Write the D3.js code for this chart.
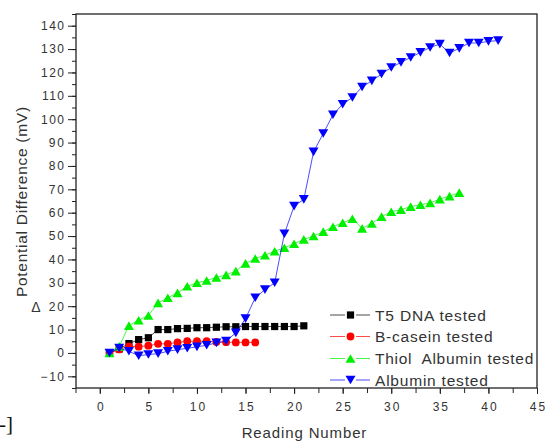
<!DOCTYPE html>
<html><head><meta charset="utf-8">
<script src="https://cdn.jsdelivr.net/npm/d3@7"></script>
<style>body{margin:0;background:#fff}svg{display:block}</style>
</head><body>
<script>
// ---- data ----
const seriesNames = ["T5 DNA tested", "B-casein tested", "Thiol  Albumin tested", "Albumin tested"];
const t5Values = [0, 1.7, 4, 5.7, 6.5, 10, 10, 10.4, 10.5, 10.8, 10.8, 11, 11.2, 11.2, 11.3, 11.3, 11.3, 11.3, 11.3, 11.3, 11.6];
const caseinValues = [0, 1.5, 2.8, 2.7, 3.1, 3.9, 3.9, 4.5, 5, 5, 5, 4.7, 4.6, 4.5, 4.5, 4.5];
const thiolValues = [0, 2.8, 11.7, 14, 16, 21.4, 23.6, 25.7, 28.5, 30, 31, 32.3, 33.4, 35, 38.3, 40.4, 41.8, 43.5, 45, 46.7, 48.6, 50, 51.9, 54, 55.7, 57.4, 53.3, 55.4, 58.3, 60.4, 61.3, 62.6, 63.4, 64.2, 65.8, 67.1, 68.6];
const albuminValues = [0, 2.1, 0.7, -1.2, -0.7, -0.3, 0.7, 1.4, 2, 2.6, 3.3, 4.3, 5.1, 8.6, 14.7, 23.6, 27.1, 30, 51, 62.8, 65.7, 86, 93.9, 101.9, 106.4, 109.3, 113.8, 116.4, 119.3, 122.1, 124.3, 126.4, 128.6, 130.7, 132.1, 128.3, 130.3, 132.6, 132.6, 133.3, 133.6];
const xTickLabels = [0, 5, 10, 15, 20, 25, 30, 35, 40, 45];
const yTickLabels = [-10, 0, 10, 20, 30, 40, 50, 60, 70, 80, 90, 100, 110, 120, 130, 140];
const xTitle = "Reading Number";
const yTitle = "Potential Difference (mV)";

const colors = ["#000000", "#ff0000", "#00f000", "#0000ff"];
const shapes = ["square", "circle", "up", "down"];
const allSeries = [t5Values, caseinValues, thiolValues, albuminValues];

const W = 545, H = 441;
const L = 76, R = 537, T = 14, B = 388;
const STRETCH = 1.14;
const TXT = "#333";

const svg = d3.select("body").append("svg").attr("width", W).attr("height", H)
  .style("font-family", "'Liberation Sans', Arial, sans-serif");
svg.append("rect").attr("width", W).attr("height", H).attr("fill", "#fff");

const x = d3.scaleLinear().domain([-2.5, 45]).range([75.5, R]);
const y = d3.scaleLinear().domain([-15, 145]).range([B, T]);

function stretch(sel, k) {
  sel.each(function () {
    const n = this.getComputedTextLength();
    d3.select(this).attr("textLength", n * k).attr("lengthAdjust", "spacing");
  });
}

// axes
const xMinor = d3.range(-2.5, 45.01, 2.5);
const gx = svg.append("g").attr("transform", `translate(0,${B})`)
  .call(d3.axisBottom(x).tickValues(xMinor).tickSize(5).tickFormat(""));
gx.select(".domain").remove();
gx.selectAll(".tick line").attr("stroke", "#222");
const gxl = svg.append("g").attr("transform", `translate(0,${B})`)
  .call(d3.axisBottom(x).tickValues(xTickLabels).tickSize(6).tickPadding(8).tickFormat(d3.format("d")));
gxl.select(".domain").remove();
gxl.selectAll(".tick line").attr("stroke", "#222");
gxl.selectAll(".tick text").attr("font-size", 12).attr("fill", TXT)
  .attr("font-family", "'Liberation Sans', Arial, sans-serif").call(stretch, 1.15);

const yMinor = d3.range(-15, 145.01, 5);
const gy = svg.append("g").attr("transform", `translate(${L},0)`)
  .call(d3.axisLeft(y).tickValues(yMinor).tickSize(4).tickFormat(""));
gy.select(".domain").remove();
gy.selectAll(".tick line").attr("stroke", "#222");
const gyl = svg.append("g").attr("transform", `translate(${L},0)`)
  .call(d3.axisLeft(y).tickValues(yTickLabels).tickSize(8).tickPadding(4).tickFormat(d3.format("d")));
gyl.select(".domain").remove();
gyl.selectAll(".tick line").attr("stroke", "#222");
gyl.selectAll(".tick text").attr("font-size", 12).attr("fill", TXT)
  .attr("font-family", "'Liberation Sans', Arial, sans-serif").call(stretch, 1.15);

// frame
svg.append("rect").attr("x", L).attr("y", T).attr("width", R - L).attr("height", B - T)
  .attr("fill", "none").attr("stroke", "#222").attr("stroke-width", 1.3);

// markers
function marker(g, shape, cx, cy, color) {
  if (shape === "square") {
    g.append("rect").attr("x", cx - 3.6).attr("y", cy - 3.6).attr("width", 7.2).attr("height", 7.2).attr("fill", color);
  } else if (shape === "circle") {
    g.append("circle").attr("cx", cx).attr("cy", cy).attr("r", 3.9).attr("fill", color);
  } else if (shape === "up") {
    g.append("path").attr("d", `M${cx - 5},${cy + 4.3}L${cx + 5},${cy + 4.3}L${cx},${cy - 4.3}Z`).attr("fill", color);
  } else {
    g.append("path").attr("d", `M${cx - 5},${cy - 4.3}L${cx + 5},${cy - 4.3}L${cx},${cy + 4.3}Z`).attr("fill", color);
  }
}

const line = d3.line().x((d, i) => x(i + 1)).y(d => y(d));
allSeries.forEach((vals, si) => {
  const g = svg.append("g");
  g.append("path").datum(vals).attr("d", line).attr("fill", "none")
    .attr("stroke", colors[si]).attr("stroke-width", 1).attr("opacity", 0.7);
  vals.forEach((v, i) => marker(g, shapes[si], x(i + 1), y(v), colors[si]));
});

// legend
const legY = [315, 336.5, 358.5, 380];
seriesNames.forEach((name, i) => {
  const g = svg.append("g");
  g.append("line").attr("x1", 330).attr("x2", 345).attr("y1", legY[i]).attr("y2", legY[i])
    .attr("stroke", colors[i]).attr("stroke-width", 1).attr("opacity", 0.7);
  g.append("line").attr("x1", 356).attr("x2", 370).attr("y1", legY[i]).attr("y2", legY[i])
    .attr("stroke", colors[i]).attr("stroke-width", 1).attr("opacity", 0.7);
  marker(g, shapes[i], 350.5, legY[i], colors[i]);
  g.append("text").attr("x", 375).attr("y", legY[i] + 5.5).attr("font-size", 15.5).attr("fill", TXT)
    .attr("xml:space", "preserve").style("white-space", "pre").text(name).call(stretch, 1.1);
});

// titles
svg.append("text").attr("x", 304).attr("y", 438).attr("text-anchor", "middle")
  .attr("font-size", 15).attr("fill", TXT).text(xTitle).call(stretch, 1.1);
svg.append("text").attr("transform", "translate(27,202) rotate(-90)").attr("text-anchor", "middle")
  .attr("font-size", 15.5).attr("fill", TXT).text(yTitle).call(stretch, 1.1);
svg.append("text").attr("x", 36).attr("y", 312).attr("text-anchor", "middle")
  .attr("font-size", 14).attr("fill", TXT).text("\u0394");
svg.append("text").attr("x", -1).attr("y", 431)
  .attr("font-family", "'Liberation Serif', 'Times New Roman', serif")
  .attr("font-size", 21).attr("fill", "#111").text("-]");
</script>
</body></html>
